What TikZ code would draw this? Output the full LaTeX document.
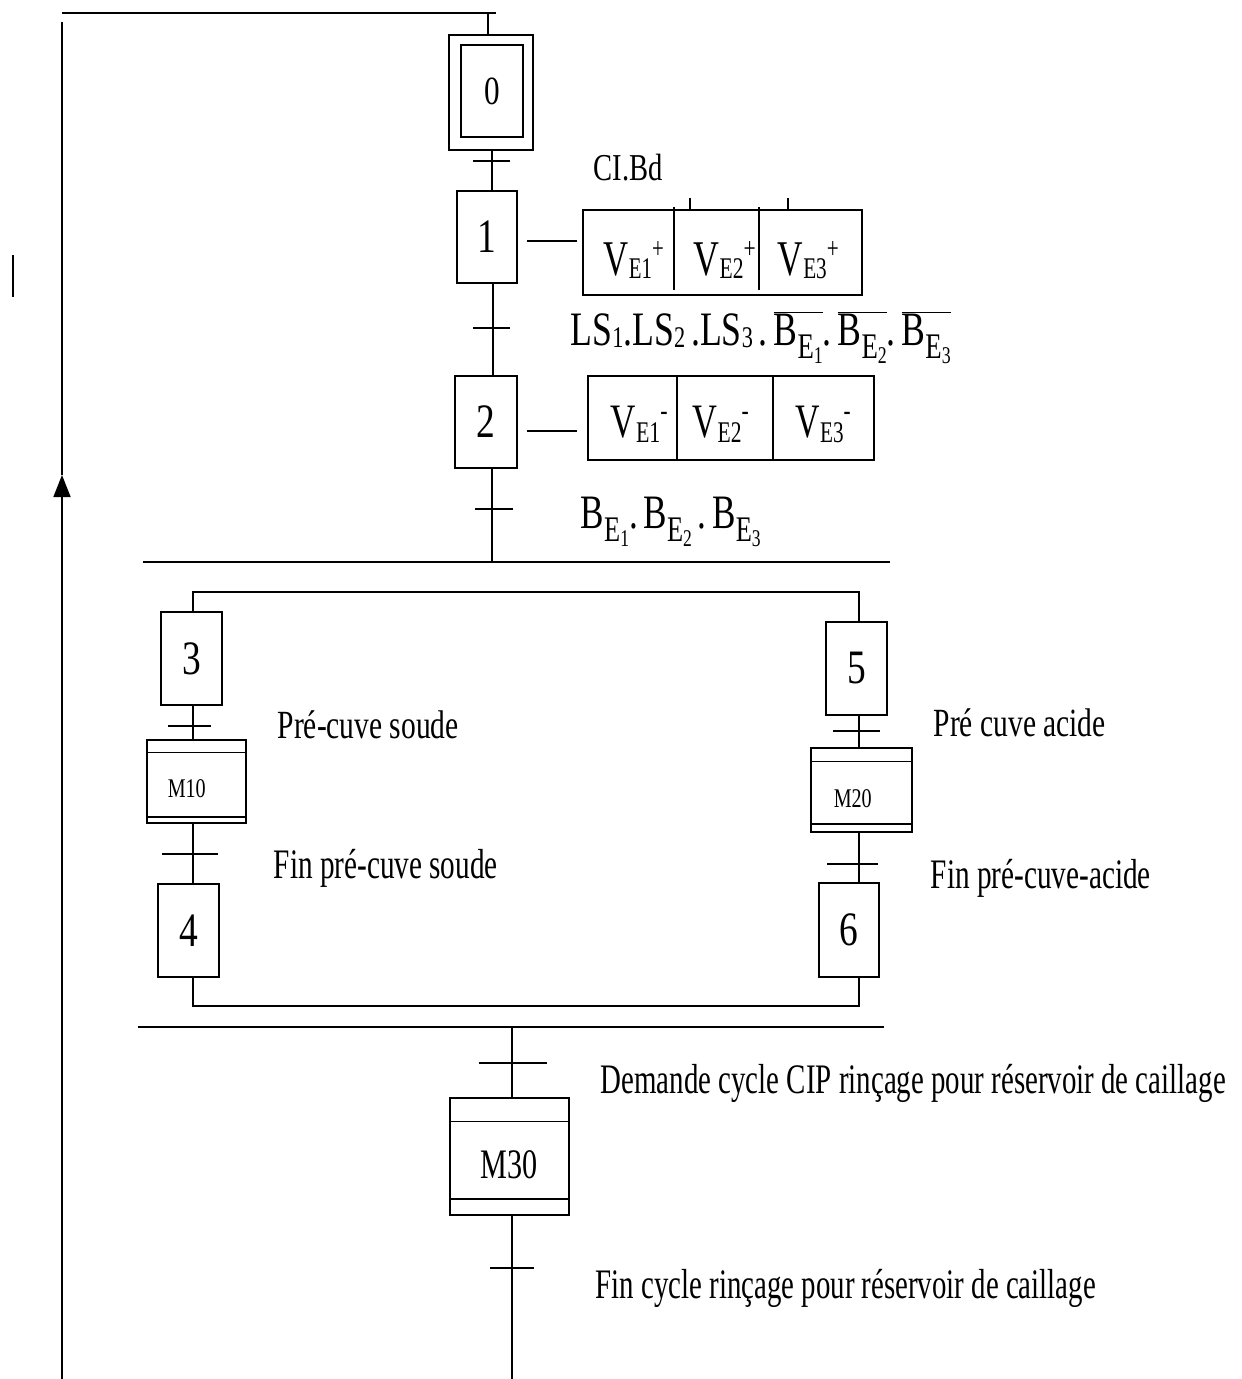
\documentclass[tikz,border=0pt]{standalone}
\usepackage{fontspec}
\setmainfont{Liberation Serif}
\usepackage{graphicx}
\usetikzlibrary{arrows.meta}
\newcommand\fw[2]{\resizebox{#1pt}{\height}{#2}}
\newcommand\fs[1]{\fontsize{#1}{#1}\selectfont}
\newcommand\narrow[1]{\scalebox{0.78}[1]{#1}}
\newcommand\Bsub[1]{B\raisebox{-13pt}{\fs{36}E\raisebox{-5pt}{\fs{24}#1}}}
\newcommand\VlabP[1]{V\raisebox{-3pt}{\fs{30}E#1}\raisebox{17pt}{\fs{30}+}}
\newcommand\VlabM[1]{V\raisebox{-5pt}{\fs{30}E#1}\raisebox{17pt}{\fs{30}-}}
\begin{document}
\begin{tikzpicture}[x=1pt,y=-1pt,line width=1.5pt,
  stepbox/.style={draw,rectangle,inner sep=0pt},
  lbl/.style={inner sep=0pt,anchor=base west},
  arr/.style={-{Triangle[length=22pt,width=17pt]}}]
\useasboundingbox (0,0) rectangle (1242,1379);

% ---------- steps ----------
\node[stepbox,minimum width=84pt,minimum height=115pt] (s0) at (491,92.5) {};
\node[stepbox,minimum width=62pt,minimum height=92pt] (s0i) at (492,91) {\fs{40}\narrow{0}};
\node[stepbox,minimum width=60pt,minimum height=92pt] (s1) at (487,237) {\fs{48}\narrow{1}};
\node[stepbox,minimum width=62pt,minimum height=92pt] (s2) at (486,422) {\fs{48}\narrow{2}};
\node[stepbox,minimum width=61pt,minimum height=93pt] (s3) at (191.5,658.5) {\fs{48}\narrow{3}};
\node[stepbox,minimum width=61pt,minimum height=93pt] (s4) at (188.5,930.5) {\fs{48}\narrow{4}};
\node[stepbox,minimum width=61pt,minimum height=93pt] (s5) at (856.5,668.5) {\fs{48}\narrow{5}};
\node[stepbox,minimum width=60pt,minimum height=94pt] (s6) at (849,930) {\fs{48}\narrow{6}};

% macro-steps
\node[stepbox,minimum width=99pt,minimum height=83pt] (m10) at (196.5,781.5) {};
\draw ([yshift=-13pt]m10.north west) -- ([yshift=-13pt]m10.north east);
\draw ([yshift=7pt]m10.south west) -- ([yshift=7pt]m10.south east);
\node[lbl] (m10t) at (167,797) {\fw{38}{\fs{27}M10}};

\node[stepbox,minimum width=101pt,minimum height=84pt] (m20) at (861.5,790) {};
\draw ([yshift=-14pt]m20.north west) -- ([yshift=-14pt]m20.north east);
\draw ([yshift=9pt]m20.south west) -- ([yshift=9pt]m20.south east);
\node[lbl] (m20t) at (833,807) {\fw{38}{\fs{27}M20}};

\node[stepbox,minimum width=119pt,minimum height=117pt] (m30) at (509.5,1156.5) {};
\draw ([yshift=-24pt]m30.north west) -- ([yshift=-24pt]m30.north east);
\draw ([yshift=17pt]m30.south west) -- ([yshift=17pt]m30.south east);
\node[lbl] (m30t) at (480,1178) {\fw{57}{\fs{42}M30}};

% ---------- action boxes ----------
\node[stepbox,minimum width=279pt,minimum height=85pt] (a1) at (722.5,252.5) {};
\draw (674,207) -- (674,290);
\draw (759,207) -- (759,290);
\draw (690,198) -- (690,0 |- a1.north);
\draw (788,198) -- (788,0 |- a1.north);
\node[lbl] (a1a) at (603,275) {\fw{60}{\fs{50}\VlabP{1}}};
\node[lbl] (a1b) at (693,275) {\fw{62}{\fs{50}\VlabP{2}}};
\node[lbl] (a1c) at (777,275) {\fw{61}{\fs{50}\VlabP{3}}};

\node[stepbox,minimum width=286pt,minimum height=84pt] (a2) at (731,418) {};
\draw (677,0 |- a2.north) -- (677,0 |- a2.south);
\draw (773,0 |- a2.north) -- (773,0 |- a2.south);
\node[lbl] (a2a) at (610,437) {\fw{57}{\fs{48}\VlabM{1}}};
\node[lbl] (a2b) at (692,437) {\fw{56}{\fs{48}\VlabM{2}}};
\node[lbl] (a2c) at (795,437) {\fw{55}{\fs{48}\VlabM{3}}};

\coordinate (c1a) at (527,241); \coordinate (c1b) at (577,241);
\coordinate (c2a) at (527,431); \coordinate (c2b) at (577,431);
\draw (c1a) -- (c1b);
\draw (c2a) -- (c2b);

% ---------- texts ----------
\node[lbl] (tCI) at (593,180) {\fw{69}{\fs{38}CI.Bd}};
\node[lbl] (tLS) at (570,345) {\fw{380}{\fs{48}LS\raisebox{-2pt}{\fs{30}1}.LS\raisebox{-2pt}{\fs{30}2}\,.LS\raisebox{-2pt}{\fs{30}3}\,.\,$\overline{\hbox{\Bsub{1}}}$.\,$\overline{\hbox{\Bsub{2}}}$.\,$\overline{\hbox{\Bsub{3}}}$}};
\node[lbl] (tBE) at (580,528) {\fw{180}{\fs{48}\Bsub{1}.\,\Bsub{2}\,.\,\Bsub{3}}};
\node[lbl] (tPS) at (277,738) {\fw{181}{\fs{40}Pré-cuve soude}};
\node[lbl] (tFS) at (273,878) {\fw{224}{\fs{42}Fin pré-cuve soude}};
\node[lbl] (tPA) at (933,736) {\fw{172}{\fs{40}Pré cuve acide}};
\node[lbl] (tFA) at (930,888) {\fw{220}{\fs{42}Fin pré-cuve-acide}};
\node[lbl] (tDC) at (600,1093) {\fw{625}{\fs{42}Demande cycle CIP rinçage pour réservoir de caillage}};
\node[lbl] (tFC) at (595,1298) {\fw{500}{\fs{42}Fin cycle rinçage pour réservoir de caillage}};

% ---------- links ----------
\coordinate (tl) at (62,13);
\coordinate (tre) at (496,13);
\coordinate (v0) at (488,13);
\draw (tl) -- (tre);
\draw (v0) -- (v0 |- s0.north);
\draw (492,0 |- s0.south) -- (492,0 |- s1.north);
\draw (493,0 |- s1.south) -- (493,0 |- s2.north);
\coordinate (j1) at (492,562);
\draw (492,0 |- s2.south) -- (j1);
\coordinate (hL) at (143,562); \coordinate (hR) at (890,562);
\draw (hL) -- (hR);
\coordinate (d3) at (193,592); \coordinate (d5) at (859,592);
\draw (d3 |- s3.north) -- (d3) -- (d5) -- (d5 |- s5.north);
\draw (193,0 |- s3.south) -- (193,0 |- m10.north);
\draw (193,0 |- m10.south) -- (193,0 |- s4.north);
\draw (859,0 |- s5.south) -- (859,0 |- m20.north);
\draw (859,0 |- m20.south) -- (859,0 |- s6.north);
\coordinate (c4) at (193,1006); \coordinate (c6) at (859,1006);
\draw (193,0 |- s4.south) -- (c4) -- (c6) -- (859,0 |- s6.south);
\coordinate (gL) at (138,1027); \coordinate (gR) at (884,1027);
\draw (gL) -- (gR);
\coordinate (g3) at (512,1027);
\draw (g3) -- (g3 |- m30.north);
\coordinate (bot) at (512,1379);
\draw (512,0 |- m30.south) -- (bot);

% transitions
\coordinate (t01) at (491.5,161);  \draw ([xshift=-18.5pt]t01) -- ([xshift=18.5pt]t01);
\coordinate (t12) at (491.5,328);  \draw ([xshift=-18.5pt]t12) -- ([xshift=18.5pt]t12);
\coordinate (t2)  at (494,509);    \draw ([xshift=-19pt]t2) -- ([xshift=19pt]t2);
\coordinate (t3)  at (189.5,726);  \draw ([xshift=-21.5pt]t3) -- ([xshift=21.5pt]t3);
\coordinate (t4)  at (190,854);    \draw ([xshift=-28pt]t4) -- ([xshift=28pt]t4);
\coordinate (t5)  at (856.5,731);  \draw ([xshift=-23.5pt]t5) -- ([xshift=23.5pt]t5);
\coordinate (t6)  at (852.5,864);  \draw ([xshift=-25.5pt]t6) -- ([xshift=25.5pt]t6);
\coordinate (t7)  at (513,1063);   \draw ([xshift=-34pt]t7) -- ([xshift=34pt]t7);
\coordinate (t8)  at (512,1268);   \draw ([xshift=-22pt]t8) -- ([xshift=22pt]t8);

% return line
\coordinate (lb) at (62,1379);
\coordinate (la) at (62,475);
\coordinate (lt) at (62,22);
\draw[arr] (lb) -- (la);
\draw (la) -- (lt);
\coordinate (mk1) at (13,255); \coordinate (mk2) at (13,297);
\draw (mk1) -- (mk2);
\end{tikzpicture}
\end{document}
